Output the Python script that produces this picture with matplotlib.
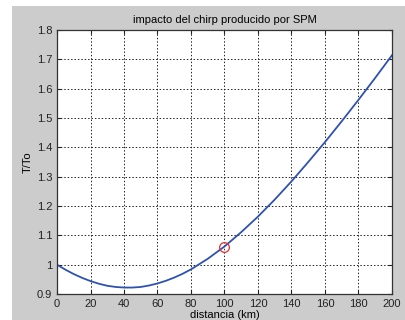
import matplotlib.pyplot as plt
from matplotlib.patches import Rectangle

plt.rcParams['font.family'] = ['Liberation Sans', 'DejaVu Sans']

# datos
distancia = [0, 5, 10, 15, 20, 25, 30, 35, 40, 45, 50, 55, 60, 65, 70, 75, 80, 90, 100,
             110, 120, 130, 140, 150, 160, 170, 180, 190, 200]
T_To = [1.000, 0.983, 0.968, 0.955, 0.944, 0.935, 0.928, 0.924, 0.922, 0.922, 0.924,
        0.929, 0.936, 0.945, 0.956, 0.969, 0.984, 1.020, 1.062,
        1.111, 1.164, 1.222, 1.284, 1.350, 1.418, 1.489, 1.562, 1.637, 1.714]
punto_x = [100]
punto_y = [1.06]

fig = plt.figure(figsize=(4.06, 3.2), dpi=100)
fig.patch.set_facecolor('white')
# fondo gris tipo matlab
fig.patches.append(Rectangle((12/406, 0), 1 - 12/406, 1 - 6/320,
                             transform=fig.transFigure, facecolor='#cccccc',
                             edgecolor='none', zorder=-1))

ax = fig.add_axes([57/406, 26/320, 335/406, 264/320])
ax.set_facecolor('white')
ax.plot(distancia, T_To, color='#2f52b0', linewidth=1.3)
ax.plot(punto_x, punto_y, 'o', markerfacecolor='none', markeredgecolor='#e03030',
        markersize=7, markeredgewidth=0.9)

ax.set_xlim(0, 200)
ax.set_ylim(0.9, 1.8)
ax.set_xticks(range(0, 201, 20))
ax.set_yticks([0.9, 1.0, 1.1, 1.2, 1.3, 1.4, 1.5, 1.6, 1.7, 1.8])
ax.set_yticklabels(['0.9', '1', '1.1', '1.2', '1.3', '1.4', '1.5', '1.6', '1.7', '1.8'])
ax.grid(True, linestyle=(0, (1.5, 2)), color='#222222', linewidth=0.7)
ax.tick_params(direction='in', length=3, labelsize=8, colors='#222222', top=True, right=True,
               labeltop=False, labelright=False)
for s in ax.spines.values():
    s.set_color('#333333')
    s.set_linewidth(0.9)

ax.set_title('impacto del chirp producido por SPM', fontsize=8, pad=5)
ax.set_xlabel('distancia (km)', fontsize=8, labelpad=1)
ax.set_ylabel('T/To', fontsize=8, labelpad=3)

fig.savefig('out.png', dpi=100)
